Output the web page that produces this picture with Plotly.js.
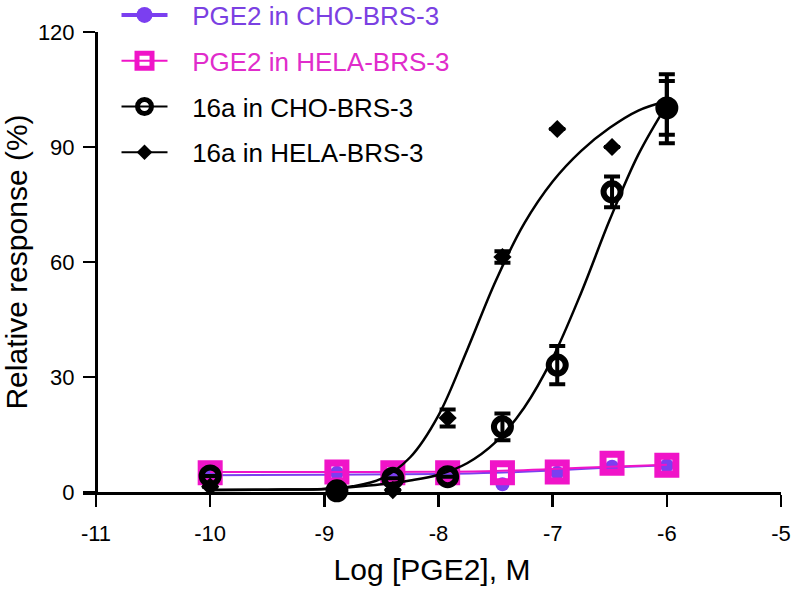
<!DOCTYPE html>
<html>
<head>
<meta charset="utf-8">
<script src="https://cdn.plot.ly/plotly-3.0.1.min.js"></script>
<style>html,body{margin:0;padding:0;background:#fff;}#chart{width:791px;height:593px;}</style>
</head>
<body>
<div id="chart"></div>
<script>
// Log concentrations (M)
var logConc = [-10, -8.89, -8.4, -7.92, -7.44, -6.96, -6.48, -6.0];

// Measured responses (%)
var pge2Cho   = [4.0, 5.0, 3.5, 4.0, 2.0, 5.0, 6.6, 6.9];
var pge2Hela  = [5.0, 5.2, 5.0, 5.0, 5.0, 5.2, 7.5, 7.0];
var c16aCho   = [4.2, 0.3, 3.6, 4.0, 17.0, 33.1, 78.3, 100.2];
var c16aChoErr = [null, null, null, null, 3.5, 5.0, 4.0, 7.0];
var c16aHela  = [1.4, 0.3, 0.5, 19.3, 61.3, 94.7, 90.0, 100.0];
var c16aHelaErr = [null, null, null, 2.2, 1.5, null, null, 9.0];

// Fitted curves
var fitPgeX   = [-10, -9, -8, -7.5, -7, -6.5, -6];
var fitPgeChoY  = [4.4, 4.5, 4.7, 5.0, 5.6, 6.4, 7.0];
var fitPgeHelaY = [5.2, 5.2, 5.3, 5.5, 6.0, 6.6, 7.1];

var fitX     = [-10, -9.5, -9.0, -8.75, -8.5, -8.25, -8.0, -7.75, -7.5, -7.25, -7.0, -6.75, -6.5, -6.25, -6.0];
var fitHelaY = [0.5, 0.6, 0.8, 1.5, 3.5, 9.0, 20.0, 37.0, 55.0, 70.0, 81.0, 89.0, 95.0, 99.5, 102.0];
var fitChoY  = [0.5, 0.6, 0.8, 1.3, 2.0, 3.0, 4.5, 7.5, 13.0, 22.0, 35.0, 52.0, 71.0, 88.0, 101.0];

var names = ['PGE2 in CHO-BRS-3', 'PGE2 in HELA-BRS-3', '16a in CHO-BRS-3', '16a in HELA-BRS-3'];
var xTicks = [-11, -10, -9, -8, -7, -6, -5];
var yTicks = [0, 30, 60, 90, 120];

var PURPLE = '#7B3FF0';
var MAGENTA = '#F014C8';
var PURPLE_TXT = '#7A40E2';
var MAGENTA_TXT = '#E02CCB';
var PAD = '&nbsp;&nbsp;&#8201;';

var choSymbols = logConc.map(function (x, i) {
  return (i === 1 || i === logConc.length - 1) ? 'circle' : 'circle-open';
});

var traces = [
  {x: fitPgeX, y: fitPgeChoY, mode: 'lines', line: {color: PURPLE, width: 2, shape: 'spline'}, showlegend: false, hoverinfo: 'skip'},
  {x: logConc, y: pge2Cho, mode: 'markers', marker: {color: PURPLE, size: 14, symbol: 'circle'}, showlegend: false, cliponaxis: false},
  {x: fitPgeX, y: fitPgeHelaY, mode: 'lines', line: {color: MAGENTA, width: 2, shape: 'spline'}, showlegend: false, hoverinfo: 'skip'},
  {x: logConc, y: pge2Hela, mode: 'markers', marker: {color: MAGENTA, size: 18, symbol: 'square-open', line: {color: MAGENTA, width: 7}}, showlegend: false, cliponaxis: false},
  {x: fitX, y: fitHelaY, mode: 'lines', line: {color: '#000', width: 2.5, shape: 'spline', smoothing: 1}, showlegend: false, hoverinfo: 'skip'},
  {x: fitX, y: fitChoY, mode: 'lines', line: {color: '#000', width: 2.5, shape: 'spline', smoothing: 1}, showlegend: false, hoverinfo: 'skip'},
  {x: logConc, y: c16aHela, mode: 'markers', marker: {color: '#000', size: 14, symbol: 'diamond'},
   error_y: {type: 'data', array: c16aHelaErr, visible: true, color: '#000', thickness: 4, width: 8}, showlegend: false, cliponaxis: false},
  {x: logConc, y: c16aCho, mode: 'markers', marker: {color: '#000', size: 17, symbol: choSymbols, line: {color: '#000', width: 6}},
   error_y: {type: 'data', array: c16aChoErr, visible: true, color: '#000', thickness: 4, width: 8}, showlegend: false, cliponaxis: false},
  // legend entries
  {x: [null], y: [null], mode: 'lines+markers', name: '<span style="color:' + PURPLE_TXT + '">' + PAD + names[0] + '</span>', legendgroup: 'a',
   line: {color: PURPLE, width: 4}, marker: {color: PURPLE, size: 16, symbol: 'circle'}},
  {x: [null], y: [null], mode: 'lines+markers', name: '<span style="color:' + MAGENTA_TXT + '">' + PAD + names[1] + '</span>', legendgroup: 'b',
   line: {color: MAGENTA, width: 2}, marker: {color: MAGENTA, size: 15, symbol: 'square-open', line: {color: MAGENTA, width: 6}}},
  {x: [null], y: [null], mode: 'lines+markers', name: PAD + names[2], legendgroup: 'c',
   line: {color: '#000', width: 2}, marker: {color: '#000', size: 14, symbol: 'circle-open', line: {color: '#000', width: 5}}},
  {x: [null], y: [null], mode: 'lines+markers', name: PAD + names[3], legendgroup: 'd',
   line: {color: '#000', width: 2}, marker: {color: '#000', size: 12, symbol: 'diamond'}}
];

var FONT = 'Liberation Sans, Arial, Helvetica, sans-serif';

var layout = {
  width: 791, height: 593,
  margin: {l: 83, r: 10, t: 32, b: 101, autoexpand: false},
  paper_bgcolor: '#fff', plot_bgcolor: '#fff',
  font: {family: FONT, color: '#000', size: 22},
  showlegend: true,
  legend: {xref: 'paper', yref: 'paper', x: 0.048, y: 1.088, xanchor: 'left', yanchor: 'top',
           bgcolor: 'rgba(0,0,0,0)', font: {family: FONT, size: 26, color: '#000'},
           tracegroupgap: 9, itemwidth: 46, traceorder: 'grouped'},
  xaxis: {
    range: [-11.114, -5], tickvals: xTicks, ticktext: xTicks.map(String),
    showgrid: false, zeroline: false, showline: true, linecolor: '#000', linewidth: 2.5,
    ticks: 'outside', ticklen: 12, tickwidth: 2.5, tickcolor: '#000',
    tickfont: {family: FONT, size: 22}, ticklabelstandoff: 8,
    title: {text: 'Log [PGE2], M', font: {family: FONT, size: 30}, standoff: 14},
    anchor: 'y'
  },
  yaxis: {
    range: [0, 120], tickvals: yTicks, ticktext: yTicks.map(String),
    showgrid: false, zeroline: false, showline: true, linecolor: '#000', linewidth: 2.5,
    ticks: 'outside', ticklen: 12, tickwidth: 2.5, tickcolor: '#000',
    tickfont: {family: FONT, size: 22}, ticklabelstandoff: 4,
    title: {text: 'Relative response (%)', font: {family: FONT, size: 30}},
    anchor: 'free', position: 13 / 698
  }
};

Plotly.newPlot('chart', traces, layout, {displayModeBar: false, staticPlot: true});
</script>
</body>
</html>
